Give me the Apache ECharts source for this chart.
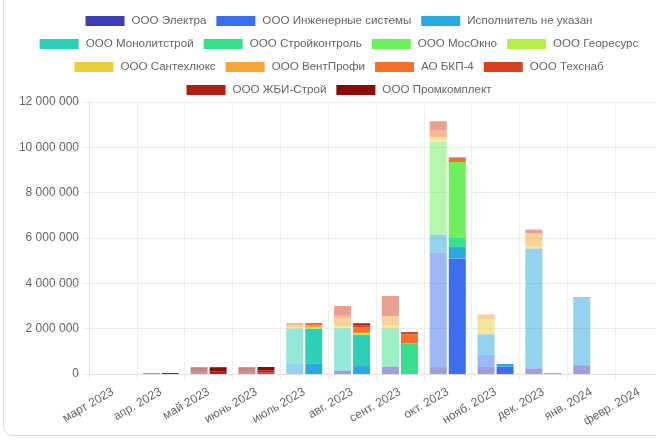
<!DOCTYPE html>
<html>
<head>
<meta charset="utf-8">
<script src="https://cdn.jsdelivr.net/npm/echarts@6/dist/echarts.min.js"></script>
<style>
  html, body { margin: 0; padding: 0; background: #fff; overflow: hidden; width: 656px; height: 442px; }
  #card { position: absolute; left: 3px; top: -12px; width: 720px; height: 448px; border: 1px solid #dcdcdc; border-radius: 10px; box-sizing: border-box; pointer-events: none; }
  #chart { position: absolute; left: 0; top: 0; width: 678px; height: 442px; }
</style>
</head>
<body>
<div id="card"></div>
<div id="chart"></div>
<script>
// Categories (months)
const categories = ['март 2023', 'апр. 2023', 'май 2023', 'июнь 2023', 'июль 2023', 'авг. 2023', 'сент. 2023', 'окт. 2023', 'нояб. 2023', 'дек. 2023', 'янв. 2024', 'февр. 2024'];

// Company names (legend order)
const companies = ['ООО Электра', 'ООО Инженерные системы', 'Исполнитель не указан', 'ООО Монолитстрой', 'ООО Стройконтроль', 'ООО МосОкно', 'ООО Георесурс', 'ООО Сантехлюкс', 'ООО ВентПрофи', 'АО БКП-4', 'ООО Техснаб', 'ООО ЖБИ-Строй', 'ООО Промкомплект'];

// Colours per company
const colors = ['#3d3fb8', '#3b6ff0', '#2aa8e0', '#2bd0b6', '#36e08c', '#6cf05c', '#b4f04c', '#e8d03c', '#f8a438', '#f87028', '#d8401e', '#b41e10', '#8c0a04'];

// Legend rows
const legendRows = [
  ['ООО Электра', 'ООО Инженерные системы', 'Исполнитель не указан'],
  ['ООО Монолитстрой', 'ООО Стройконтроль', 'ООО МосОкно', 'ООО Георесурс'],
  ['ООО Сантехлюкс', 'ООО ВентПрофи', 'АО БКП-4', 'ООО Техснаб'],
  ['ООО ЖБИ-Строй', 'ООО Промкомплект']
];

// Faded (left) stack values per company, by month
const planElektra      = [0, 0, 0, 0, 0, 150000, 320000, 300000, 320000, 250000, 380000, 0];
const planInzh         = [0, 0, 0, 0, 0, 0, 0, 5050000, 520000, 0, 0, 0];
const planNeUkazan     = [0, 0, 0, 0, 450000, 0, 0, 800000, 910000, 5290000, 3020000, 0];
const planMonolit      = [0, 0, 0, 0, 1550000, 1860000, 0, 0, 0, 0, 0, 0];
const planStroykontrol = [0, 0, 0, 0, 0, 0, 1690000, 0, 0, 0, 0, 0];
const planMosOkno      = [0, 0, 0, 0, 0, 0, 0, 4100000, 0, 0, 0, 0];
const planGeoresurs    = [0, 0, 0, 0, 50000, 100000, 0, 0, 0, 0, 0, 0];
const planSantekh      = [0, 0, 0, 0, 0, 0, 150000, 200000, 660000, 100000, 0, 0];
const planVentProfi    = [0, 0, 0, 0, 100000, 370000, 400000, 0, 220000, 560000, 0, 0];
const planBkp4         = [0, 0, 0, 0, 100000, 100000, 0, 300000, 0, 0, 0, 0];
const planTekhsnab     = [0, 0, 0, 0, 0, 420000, 880000, 400000, 0, 170000, 0, 0];
const planZhbi         = [0, 0, 100000, 100000, 0, 0, 0, 0, 0, 0, 0, 0];
const planPromkompl    = [0, 40000, 200000, 200000, 0, 0, 0, 0, 0, 0, 0, 0];

// Solid (right) stack values per company, by month
const factElektra      = [0, 0, 0, 0, 0, 0, 0, 0, 0, 0, 0, 0];
const factInzh         = [0, 0, 0, 0, 0, 0, 0, 5100000, 330000, 0, 0, 0];
const factNeUkazan     = [0, 0, 0, 0, 450000, 350000, 0, 500000, 110000, 30000, 0, 0];
const factMonolit      = [0, 0, 0, 0, 1550000, 1370000, 0, 0, 0, 0, 0, 0];
const factStroykontrol = [0, 0, 0, 0, 0, 0, 1350000, 400000, 0, 0, 0, 0];
const factMosOkno      = [0, 0, 0, 0, 0, 0, 0, 3350000, 0, 0, 0, 0];
const factGeoresurs    = [0, 0, 0, 0, 50000, 100000, 0, 0, 0, 0, 0, 0];
const factSantekh      = [0, 0, 0, 0, 0, 0, 0, 0, 0, 0, 0, 0];
const factVentProfi    = [0, 0, 0, 0, 100000, 0, 0, 0, 0, 0, 0, 0];
const factBkp4         = [0, 0, 0, 0, 100000, 240000, 400000, 150000, 0, 0, 0, 0];
const factTekhsnab     = [0, 0, 0, 80000, 0, 90000, 100000, 50000, 0, 0, 0, 0];
const factZhbi         = [0, 0, 100000, 80000, 0, 90000, 0, 0, 0, 0, 0, 0];
const factPromkompl    = [0, 40000, 200000, 150000, 0, 0, 0, 0, 0, 0, 0, 0];

// Y axis ticks
const yMin = 0, yMax = 12000000, yStep = 2000000;

const planData = [planElektra, planInzh, planNeUkazan, planMonolit, planStroykontrol, planMosOkno, planGeoresurs, planSantekh, planVentProfi, planBkp4, planTekhsnab, planZhbi, planPromkompl];
const factData = [factElektra, factInzh, factNeUkazan, factMonolit, factStroykontrol, factMosOkno, factGeoresurs, factSantekh, factVentProfi, factBkp4, factTekhsnab, factZhbi, factPromkompl];

const FONT = 'Liberation Sans, Arial, sans-serif';
const series = [];
companies.forEach((name, i) => {
  series.push({
    name: name + ' ', type: 'bar', stack: 'plan', barWidth: 17, barGap: '12%',
    itemStyle: { color: colors[i], opacity: 0.5 },
    emphasis: { disabled: true },
    data: planData[i].map(v => v === 0 ? null : v)
  });
});
companies.forEach((name, i) => {
  series.push({
    name: name, type: 'bar', stack: 'fact', barWidth: 17, barGap: '12%',
    itemStyle: { color: colors[i] },
    emphasis: { disabled: true },
    data: factData[i].map(v => v === 0 ? null : v)
  });
});

const legends = legendRows.map((row, r) => ({
  data: row,
  left: 'center',
  top: 15 + r * 23,
  itemWidth: 39,
  itemHeight: 10,
  itemGap: 10,
  icon: 'rect',
  padding: 0,
  textStyle: { color: '#666', fontSize: 11.6, fontFamily: FONT, padding: [0, 0, 0, 2] }
}));

const fmt = v => String(v).replace(/\B(?=(\d{3})+(?!\d))/g, ' ');

const chart = echarts.init(document.getElementById('chart'), null, { renderer: 'canvas' });
chart.setOption({
  animation: false,
  backgroundColor: 'transparent',
  legend: legends,
  grid: { left: 89, right: 15, top: 102, bottom: 68, containLabel: false },
  xAxis: {
    type: 'category',
    data: categories,
    axisLine: { show: true, lineStyle: { color: '#e0e0e0' } },
    axisTick: { show: true, length: 6, lineStyle: { color: '#ececec' } },
    splitLine: { show: true, lineStyle: { color: '#efefef' } },
    axisLabel: { rotate: 30, margin: 17, color: '#666', fontSize: 12, fontFamily: FONT, interval: 0 }
  },
  yAxis: {
    type: 'value',
    min: yMin, max: yMax, interval: yStep,
    axisLine: { show: true, lineStyle: { color: '#e6e6e6' } },
    axisTick: { show: true, length: 6, lineStyle: { color: '#ececec' } },
    splitLine: { show: true, lineStyle: { color: '#ececec' } },
    axisLabel: { color: '#666', fontSize: 12, fontFamily: FONT, margin: 10, formatter: fmt }
  },
  series: series
});
</script>
</body>
</html>
